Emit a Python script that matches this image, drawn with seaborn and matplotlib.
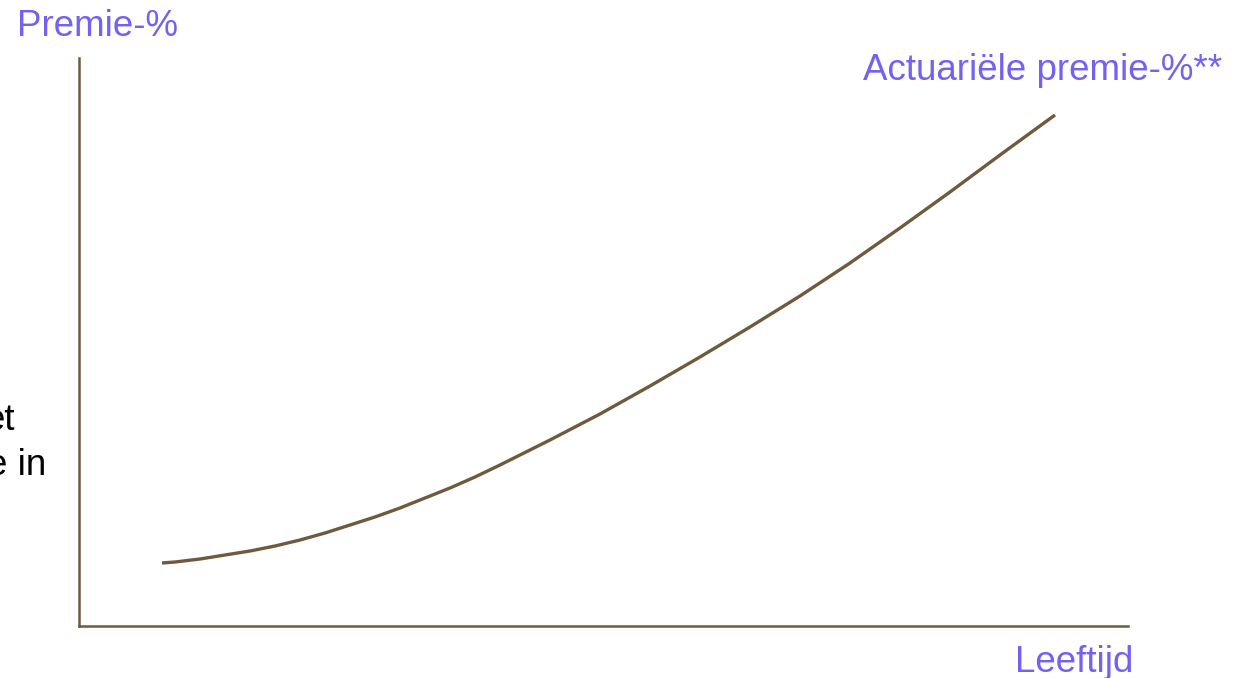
import matplotlib
matplotlib.use("Agg")
import matplotlib.pyplot as plt
import seaborn as sns
import pandas as pd

# Data (arbitrary units)
leeftijd = [83, 96, 121, 146, 171, 196, 221, 246, 271, 296, 321, 346, 371, 396, 421,
            471, 521, 571, 621, 671, 721, 771, 821, 871, 921, 976]
premie = [63, 64, 67, 71, 75, 80, 86, 93, 101, 109, 118, 128, 138, 149, 161,
          186, 212, 240, 269, 299, 330, 363, 398, 434, 471, 511]

x_label = "Leeftijd"
y_label = "Premie-%"
curve_label = "Actuariële premie-%**"
side_text = ["et", "e in"]

sns.set_theme(style="white")
plt.rcParams['font.family'] = ['Liberation Sans', 'DejaVu Sans']

W, H = 1250, 678
fig = plt.figure(figsize=(W / 100, H / 100), dpi=100)
ax = fig.add_axes([79 / W, (H - 626) / H, (1128 - 79) / W, (626 - 58) / H])

brown = "#6F5A3E"
purple = "#7461F0"

df = pd.DataFrame({"x": leeftijd, "y": premie})
line = sns.lineplot(data=df, x="x", y="y", ax=ax, color=brown, linewidth=2.4)
for l in ax.lines:
    l.set_solid_joinstyle("round")
    l.set_solid_capstyle("butt")

ax.set_xlim(0, 1049)
ax.set_ylim(0, 568)
ax.set_xticks([])
ax.set_yticks([])
ax.set_xlabel("")
ax.set_ylabel("")
for s in ["top", "right"]:
    ax.spines[s].set_visible(False)
for s in ["left", "bottom"]:
    ax.spines[s].set_color(brown)
    ax.spines[s].set_linewidth(1.8)

fs = 26.5
fig.text(17 / W, (H - 36) / H, y_label, color=purple, fontsize=fs, ha="left", va="baseline")
fig.text(1222 / W, (H - 80) / H, curve_label, color=purple, fontsize=fs, ha="right", va="baseline")
fig.text(1133 / W, (H - 672) / H, x_label, color=purple, fontsize=fs, ha="right", va="baseline")
fig.text(15 / W, (H - 430) / H, side_text[0], color="black", fontsize=fs, ha="right", va="baseline")
fig.text(46 / W, (H - 475) / H, side_text[1], color="black", fontsize=fs, ha="right", va="baseline")

fig.savefig("out.png", dpi=100, facecolor="white")
